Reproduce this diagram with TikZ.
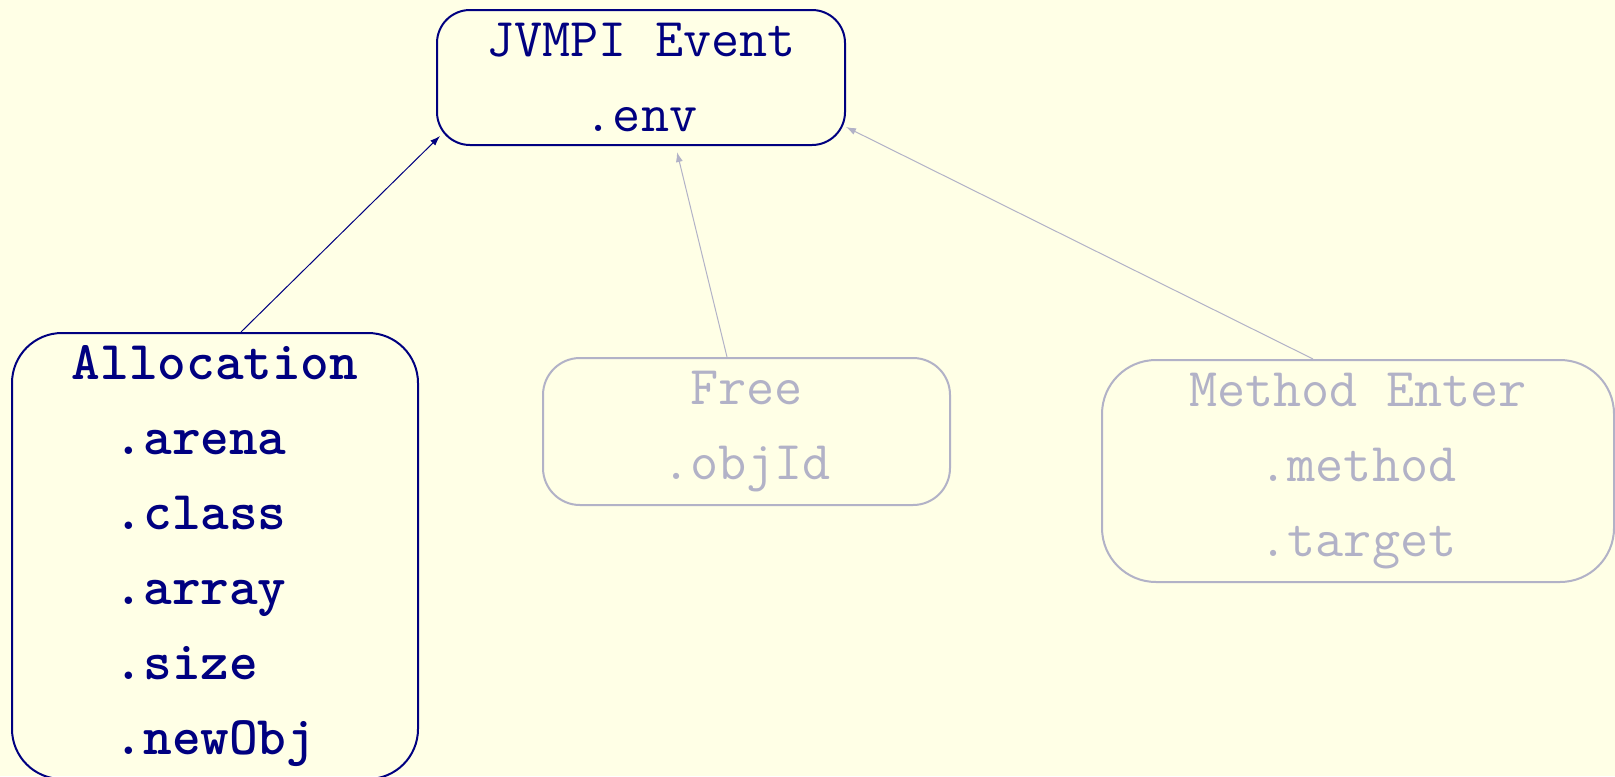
\documentclass[tikz,border=0pt]{standalone}
\usepackage{tikz}
\usetikzlibrary{arrows.meta}
\definecolor{slidebg}{RGB}{255,255,230}
\definecolor{ink}{RGB}{0,0,128}
\colorlet{faded}{ink!30!slidebg}
\newcommand{\slidefont}{\fontsize{27.3}{37.5}\selectfont\ttfamily}
\tikzstyle{event} = [draw=ink, text=ink, line width=1pt, align=center, inner sep=0pt, font=\slidefont]
\tikzstyle{ghost} = [draw=faded, text=faded, line width=1pt, align=center, inner sep=0pt, font=\slidefont]
\tikzstyle{link} = [-{Latex[length=5pt,width=3.5pt]}, line width=0.5pt]

\begin{document}
\begin{tikzpicture}[x=0.5pt,y=-0.5pt]

\fill[slidebg] (0,0) rectangle (1615,776);
\useasboundingbox (0,0) rectangle (1615,776);

\node[event, rounded corners=16.5pt, minimum width=204pt, minimum height=67.5pt] (jvmpi) at (641,77.5) {JVMPI Event\\.env};

\node[event, font=\slidefont\bfseries, rounded corners=25pt, minimum width=203pt, minimum height=223pt] (alloc) at (215,556)
	{Allocation\\.arena\phantom{x}\\.class\phantom{x}\\.array\phantom{x}\\.size\phantom{xx}\\.newObj};

\node[ghost, rounded corners=18.5pt, minimum width=203.5pt, minimum height=73.5pt] (free) at (746.5,431.5) {Free\\.objId};

\node[ghost, rounded corners=27pt, minimum width=256pt, minimum height=111pt] (method) at (1358,471) {Method Enter\\.method\\.target};

\draw[link, ink] ([xshift=13pt]alloc.north) -- ([shift={(2pt,5pt)}]jvmpi.south west);
\draw[link, faded] ([xshift=-9.75pt]free.north) -- ([shift={(18pt,-3pt)}]jvmpi.south);
\draw[link, faded] ([xshift=-22.5pt]method.north) -- ([yshift=9.5pt]jvmpi.south east);

\end{tikzpicture}
\end{document}
